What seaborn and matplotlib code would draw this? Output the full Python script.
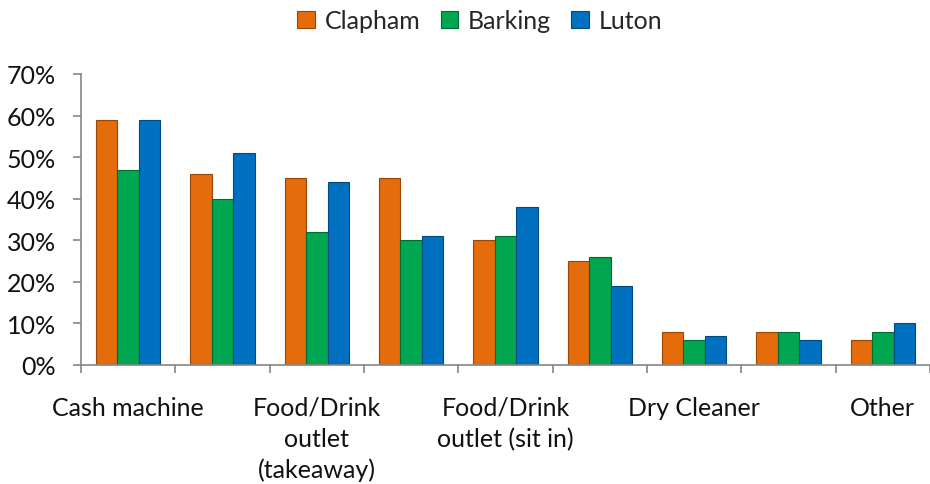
import matplotlib
matplotlib.use("Agg")
import matplotlib.pyplot as plt
import seaborn as sns
import pandas as pd
import numpy as np
from matplotlib.ticker import PercentFormatter, FixedLocator
from matplotlib.patches import Patch

# ---- data ----
categories = ["Cash machine", "Category 2", "Food/Drink outlet (takeaway)", "Category 4",
              "Food/Drink outlet (sit in)", "Category 6", "Dry Cleaner", "Category 8", "Other"]
tick_labels = ["Cash machine", "", "Food/Drink\noutlet\n(takeaway)", "",
               "Food/Drink\noutlet (sit in)", "", "Dry Cleaner", "", "Other"]
series_names = ["Clapham", "Barking", "Luton"]
clapham = [0.59, 0.46, 0.45, 0.45, 0.30, 0.25, 0.08, 0.08, 0.06]
barking = [0.47, 0.40, 0.32, 0.30, 0.31, 0.26, 0.06, 0.08, 0.08]
luton = [0.59, 0.51, 0.44, 0.31, 0.38, 0.19, 0.07, 0.06, 0.10]
y_ticks = [0, 0.1, 0.2, 0.3, 0.4, 0.5, 0.6, 0.7]

colors = ["#E46C0A", "#00A650", "#0070C0"]
edge_colors = ["#9A4607", "#006B34", "#004A80"]

df = pd.DataFrame({
    "category": categories * 3,
    "site": [s for s in series_names for _ in categories],
    "value": clapham + barking + luton,
})

sns.set_theme(style="white")
plt.rcParams["font.family"] = ["Lato", "DejaVu Sans"]

FS = 18

fig = plt.figure(figsize=(9.3, 4.85), dpi=100)
ax = fig.add_axes([81 / 930, 1 - 366 / 485, (930 - 81) / 930, (366 - 75) / 485])

sns.barplot(data=df, x="category", y="value", hue="site", order=categories,
            hue_order=series_names, palette=colors, width=0.68, ax=ax,
            saturation=1, legend=False, errorbar=None)

for cont, ec in zip(ax.containers, edge_colors):
    for bar in cont:
        bar.set_edgecolor(ec)
        bar.set_linewidth(0.8)

ax.set_xlim(-0.5, 8.41)
ax.set_ylim(0, 0.7)
ax.yaxis.set_major_locator(FixedLocator(y_ticks))
ax.yaxis.set_major_formatter(PercentFormatter(1.0, decimals=0))
ax.set_xlabel("")
ax.set_ylabel("")

ax.set_xticks(range(len(categories)))
ax.set_xticklabels(tick_labels, fontsize=FS, color="#111111", linespacing=1.42)
ax.set_xticks(np.arange(-0.5, len(categories), 1.0), minor=True)
ax.tick_params(axis="x", which="major", length=0, pad=22)
ax.tick_params(axis="x", which="minor", length=6, width=1.2, color="#868686", direction="out",
               bottom=True)
ax.tick_params(axis="y", which="major", length=6, width=1.2, color="#868686", direction="out",
               pad=12, labelsize=FS, labelcolor="#111111", left=True)

for side in ["top", "right"]:
    ax.spines[side].set_visible(False)
for side in ["left", "bottom"]:
    ax.spines[side].set_color("#868686")
    ax.spines[side].set_linewidth(1.2)

handles = [Patch(facecolor=c, edgecolor=e, linewidth=0.8) for c, e in zip(colors, edge_colors)]
fig.legend(handles, series_names, loc="upper center", bbox_to_anchor=(0.516, 1.025), ncol=3,
           frameon=False, fontsize=FS, handlelength=0.7, handleheight=0.7,
           handletextpad=0.4, columnspacing=0.8)

fig.savefig("out.png", dpi=100)
